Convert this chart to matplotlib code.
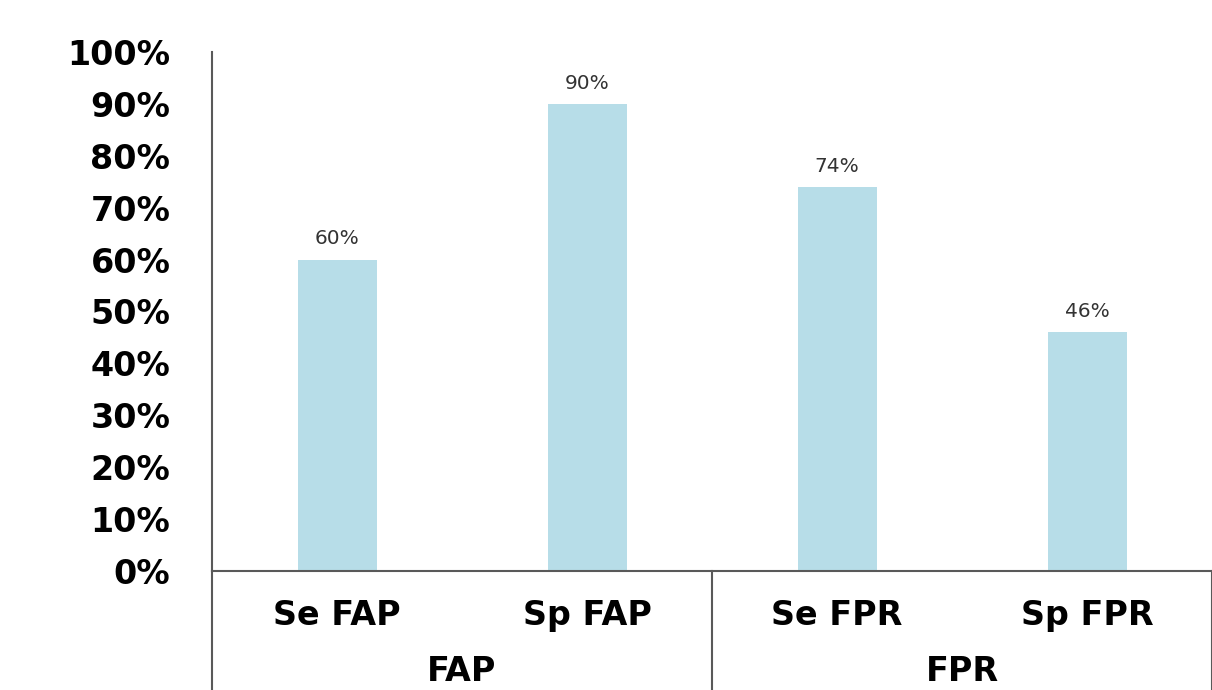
import matplotlib
matplotlib.use("Agg")
import matplotlib.pyplot as plt
import matplotlib.transforms as mtransforms

# sensitivity / specificity per test
categories = ["Se FAP", "Sp FAP", "Se FPR", "Sp FPR"]
groups = ["FAP", "FPR"]
values = [0.60, 0.90, 0.74, 0.46]
value_labels = ["60%", "90%", "74%", "46%"]
y_ticks = [0.0, 0.1, 0.2, 0.3, 0.4, 0.5, 0.6, 0.7, 0.8, 0.9, 1.0]
y_tick_labels = ["0%", "10%", "20%", "30%", "40%", "50%", "60%", "70%", "80%", "90%", "100%"]

bar_color = "#b7dde8"
line_color = "#595959"

fig = plt.figure(figsize=(12.12, 6.9), dpi=100)
ax = fig.add_axes([212 / 1212, 119 / 690, 1000 / 1212, 519 / 690])

x = list(range(len(categories)))
bars = ax.bar(x, values, width=0.316, color=bar_color, zorder=2)

for rect, lbl in zip(bars, value_labels):
    ax.annotate(lbl, (rect.get_x() + rect.get_width() / 2, rect.get_height()),
                xytext=(0, 8), textcoords="offset points",
                ha="center", va="bottom", fontsize=14.5, color="#333333")

ax.set_xlim(-0.5, len(categories) - 0.5)
ax.set_ylim(0, 1.0)
ax.set_yticks(y_ticks)
ax.set_yticklabels(y_tick_labels, fontsize=24, fontweight="bold")
ax.tick_params(axis="y", length=0, pad=30)
ax.set_xticks([])

for side in ["top", "right", "bottom"]:
    ax.spines[side].set_visible(False)
ax.spines["left"].set_color(line_color)
ax.spines["left"].set_linewidth(1.5)

# category axis with group boxes underneath
trans = mtransforms.blended_transform_factory(ax.transData, ax.transAxes)
ax.plot([-0.5, len(categories) - 0.5], [0, 0], transform=trans,
        color=line_color, lw=1.5, clip_on=False, zorder=3)
for xv in [-0.5, 1.5, 3.5]:
    ax.plot([xv, xv], [0, -0.25], transform=trans,
            color=line_color, lw=1.5, clip_on=False)

for xi, cat in zip(x, categories):
    ax.text(xi, -0.085, cat, transform=trans, ha="center", va="center",
            fontsize=24, fontweight="bold")

for gi, grp in enumerate(groups):
    ax.text(gi * 2 + 0.5, -0.194, grp, transform=trans, ha="center", va="center",
            fontsize=24, fontweight="bold")

fig.savefig("out.png", dpi=100)
